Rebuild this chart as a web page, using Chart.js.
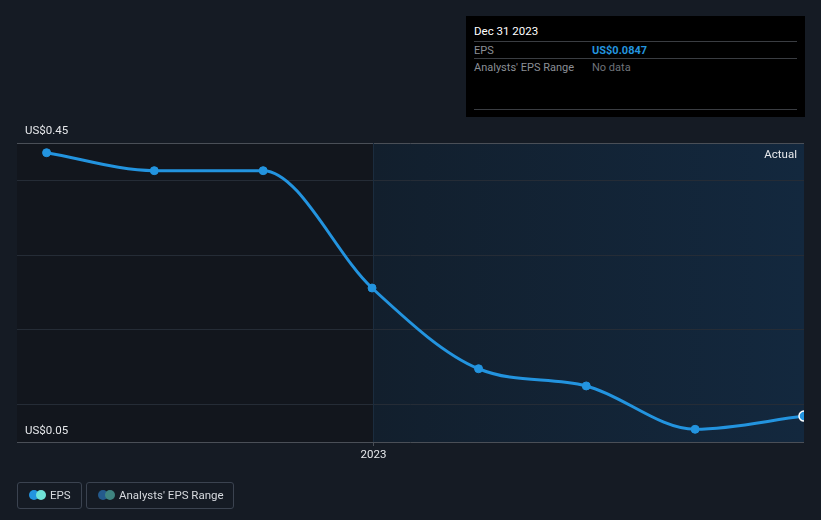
<!DOCTYPE html>
<html>
<head>
<meta charset="utf-8">
<script src="https://cdn.jsdelivr.net/npm/chart.js@4"></script>
<style>
  html, body { margin: 0; padding: 0; background: #151b24; }
  body { width: 821px; height: 520px; position: relative; overflow: hidden; font-family: Roboto, "Noto Sans", sans-serif; }
  #wrap { position: absolute; left: 0; top: 0; width: 821px; height: 520px; }
  .tip { position: absolute; left: 466px; top: 16px; width: 339px; height: 101px; background: #000; }
  .tip .title { position: absolute; left: 8px; top: 8px; color: #fff; font-size: 11.5px; }
  .tip .row { position: absolute; left: 8px; width: 323px; border-top: 1px solid #3a3d42; height: 17px; font-size: 11px; }
  .tip .row span { position: absolute; top: 2px; }
  .tip .lbl { left: 0; color: #8b8f96; }
  .tip .val { left: 118px; }
  .tip .bottom { position: absolute; left: 8px; top: 93px; width: 323px; border-top: 1px solid #3a3d42; }
  .legend { position: absolute; top: 482px; height: 27px; border: 1px solid #3b4350; border-radius: 3px; box-sizing: border-box; color: #d6d9de; font-size: 11.5px; }
  .legend .dots { position: absolute; left: 11px; top: 7px; width: 20px; height: 10px; }
  .legend .dots i { position: absolute; top: 0; width: 10px; height: 10px; border-radius: 50%; }
  .legend .txt { position: absolute; top: 5px; }
</style>
</head>
<body>
<div id="wrap"><canvas id="c" width="821" height="520"></canvas></div>

<div class="tip">
  <div class="title">Dec 31 2023</div>
  <div class="row" style="top:25px"><span class="lbl">EPS</span><span class="val" style="color:#2394df;font-weight:bold">US$0.0847</span></div>
  <div class="row" style="top:42px"><span class="lbl">Analysts' EPS Range</span><span class="val" style="color:#6f737a">No data</span></div>
  <div class="bottom"></div>
</div>

<div class="legend" style="left:17px;width:65px">
  <div class="dots"><i style="left:0;background:#2394df"></i><i style="left:7px;background:#6fe3d8"></i></div>
  <span class="txt" style="left:32px">EPS</span>
</div>
<div class="legend" style="left:86px;width:148px">
  <div class="dots"><i style="left:0;background:#245a8c"></i><i style="left:7px;background:#3f8480"></i></div>
  <span class="txt" style="left:32px">Analysts' EPS Range</span>
</div>

<script>
// quarter ends and EPS (US$)
const quarterEnds = ['2022-03-31', '2022-06-30', '2022-09-30', '2022-12-31', '2023-03-31', '2023-06-30', '2023-09-30', '2023-12-31'];
const epsValues = [0.437, 0.413, 0.413, 0.256, 0.148, 0.125, 0.067, 0.0847];
const yTicks = [0.05, 0.1, 0.2, 0.3, 0.4, 0.45];
const yLabels = ['US$0.05', 'US$0.45'];
const xStart = '2022-03-06';
const xEnd = '2023-12-31';
const yearMark = '2023-01-01';

const day = s => Date.parse(s) / 86400000;

const points = quarterEnds.map((d, i) => ({ x: day(d), y: epsValues[i] }));
const last = points.length - 1;

const decor = {
    id: 'decor',
    beforeDraw(chart) {
        const { ctx, chartArea: a } = chart;
        const xm = chart.scales.x.getPixelForValue(day(yearMark));
        ctx.save();
        ctx.fillStyle = '#151b24';
        ctx.fillRect(0, 0, chart.width, chart.height);
        ctx.fillStyle = '#12161d';
        ctx.fillRect(a.left, a.top, xm - a.left, a.bottom - a.top);
        const g = ctx.createLinearGradient(xm, 0, a.right, 0);
        g.addColorStop(0, '#121f2d');
        g.addColorStop(1, '#13283e');
        ctx.fillStyle = g;
        ctx.fillRect(xm, a.top, a.right - xm, a.bottom - a.top);
        ctx.restore();
    },
    beforeDatasetsDraw(chart) {
        const { ctx, chartArea: a } = chart;
        const xm = Math.round(chart.scales.x.getPixelForValue(day(yearMark))) + 0.5;
        ctx.save();
        ctx.lineWidth = 1;
        ctx.strokeStyle = '#1b2c3e';
        ctx.beginPath();
        ctx.moveTo(xm, a.top);
        ctx.lineTo(xm, a.bottom);
        ctx.stroke();
        ctx.strokeStyle = '#4a4f57';
        ctx.beginPath();
        ctx.moveTo(xm, a.bottom);
        ctx.lineTo(xm, a.bottom + 4);
        ctx.stroke();

        ctx.fillStyle = '#e6e8eb';
        ctx.font = '11.5px Roboto, sans-serif';
        ctx.textAlign = 'center';
        ctx.textBaseline = 'middle';
        ctx.fillText('2023', xm, a.bottom + 13);

        const y = chart.scales.y;
        ctx.textAlign = 'left';
        ctx.fillText(yLabels[1], 25, y.getPixelForValue(0.45) - 12);
        ctx.fillText(yLabels[0], 25, y.getPixelForValue(0.05) - 11);

        ctx.textAlign = 'right';
        ctx.fillText('Actual', a.right - 7, a.top + 12);
        ctx.restore();
    }
};

new Chart(document.getElementById('c'), {
    type: 'line',
    data: {
        datasets: [{
            label: 'EPS',
            data: points,
            borderColor: '#2394df',
            borderWidth: 3,
            cubicInterpolationMode: 'monotone',
            pointRadius: ctx => ctx.dataIndex === last ? 5 : 4,
            pointBackgroundColor: '#2394df',
            pointBorderColor: ctx => ctx.dataIndex === last ? '#ffffff' : '#2394df',
            pointBorderWidth: ctx => ctx.dataIndex === last ? 1.5 : 1
        }]
    },
    options: {
        responsive: false,
        animation: false,
        devicePixelRatio: 1,
        layout: { padding: { left: 17, right: 17, top: 143, bottom: 78 } },
        plugins: { legend: { display: false }, tooltip: { enabled: false } },
        scales: {
            x: {
                type: 'linear',
                display: false,
                min: day(xStart),
                max: day(xEnd)
            },
            y: {
                min: 0.05,
                max: 0.45,
                afterBuildTicks: s => { s.ticks = yTicks.map(v => ({ value: v })); },
                ticks: { display: false },
                border: { display: false },
                grid: {
                    drawTicks: false,
                    color: c => (c.tick && (c.tick.value === 0.05 || c.tick.value === 0.45)) ? '#4a4f57' : '#252c36'
                }
            }
        }
    },
    plugins: [decor]
});
</script>
</body>
</html>
